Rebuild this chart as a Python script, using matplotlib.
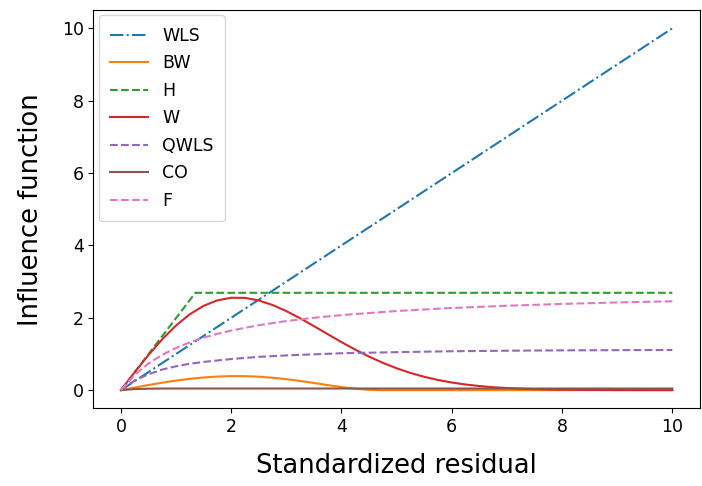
import matplotlib
matplotlib.use("Agg")
import matplotlib.pyplot as plt

# WLS: straight line
x_wls = [0, 10]
y_wls = [0, 10]

# Huber-like (H)
x_h = [0, 1.35, 10]
y_h = [0, 2.69, 2.69]

# Welsch-like (W)
x_w = [0, 0.25, 0.5, 0.75, 1.0, 1.25, 1.5, 1.75, 2.0, 2.25, 2.5, 2.75, 3.0, 3.25,
       3.5, 3.75, 4.0, 4.25, 4.5, 4.75, 5.0, 5.25, 5.5, 5.75, 6.0, 6.25, 6.5, 6.75,
       7.0, 7.5, 8.0, 9.0, 10.0]
y_w = [0, 0.496, 0.972, 1.408, 1.788, 2.098, 2.331, 2.482, 2.553, 2.550, 2.479,
       2.353, 2.185, 1.986, 1.770, 1.548, 1.328, 1.119, 0.927, 0.755, 0.605, 0.476,
       0.369, 0.281, 0.211, 0.156, 0.113, 0.081, 0.057, 0.027, 0.012, 0.002, 0.0]

# Biweight-like (BW)
x_bw = [0, 0.25, 0.5, 0.75, 1.0, 1.25, 1.5, 1.75, 2.0, 2.25, 2.5, 2.75, 3.0, 3.25,
        3.5, 3.75, 4.0, 4.25, 4.5, 4.685, 10.0]
y_bw = [0, 0.072, 0.142, 0.206, 0.264, 0.313, 0.350, 0.376, 0.388, 0.386, 0.371,
        0.343, 0.303, 0.254, 0.198, 0.140, 0.085, 0.039, 0.008, 0.0, 0.0]

# Saturating curves (QWLS, F, CO)
x_s = [0, 0.25, 0.5, 0.75, 1.0, 1.25, 1.5, 1.75, 2.0, 2.5, 3.0, 3.5, 4.0, 5.0,
       6.0, 7.0, 8.0, 9.0, 10.0]
y_qwls = [0, 0.27, 0.44, 0.57, 0.66, 0.73, 0.78, 0.82, 0.86, 0.92, 0.96, 0.99,
          1.02, 1.05, 1.075, 1.09, 1.10, 1.105, 1.11]
y_f = [0, 0.424, 0.737, 0.977, 1.167, 1.321, 1.448, 1.556, 1.647, 1.795, 1.909,
       2.0, 2.074, 2.188, 2.270, 2.333, 2.383, 2.423, 2.456]
y_co = [0, 0.03, 0.04, 0.045, 0.045, 0.045, 0.045, 0.045, 0.045, 0.045, 0.045,
        0.045, 0.045, 0.045, 0.045, 0.045, 0.045, 0.045, 0.045]

fig = plt.figure(figsize=(7.02, 4.86), dpi=100)
ax = fig.add_axes([0.133, 0.16, 0.864, 0.819])

ax.plot(x_wls, y_wls, '-.', color='C0', label='WLS')
ax.plot(x_bw, y_bw, '-', color='C1', label='BW')
ax.plot(x_h, y_h, '--', color='C2', label='H')
ax.plot(x_w, y_w, '-', color='C3', label='W')
ax.plot(x_s, y_qwls, '--', color='C4', label='QWLS')
ax.plot(x_s, y_co, '-', color='C5', label='CO')
ax.plot(x_s, y_f, '--', color='C6', label='F')

ax.set_xlabel('Standardized residual', fontsize=18.5, labelpad=12)
ax.set_ylabel('Influence function', fontsize=18.5, labelpad=13)
ax.tick_params(labelsize=12.5)
ax.set_xticks([0, 2, 4, 6, 8, 10])
ax.set_yticks([0, 2, 4, 6, 8, 10])
ax.legend(loc='upper left', fontsize=12.5, handlelength=2.2, handletextpad=0.8,
          borderpad=0.65, borderaxespad=0.3, labelspacing=0.55)

fig.savefig('out.png', dpi=100)
